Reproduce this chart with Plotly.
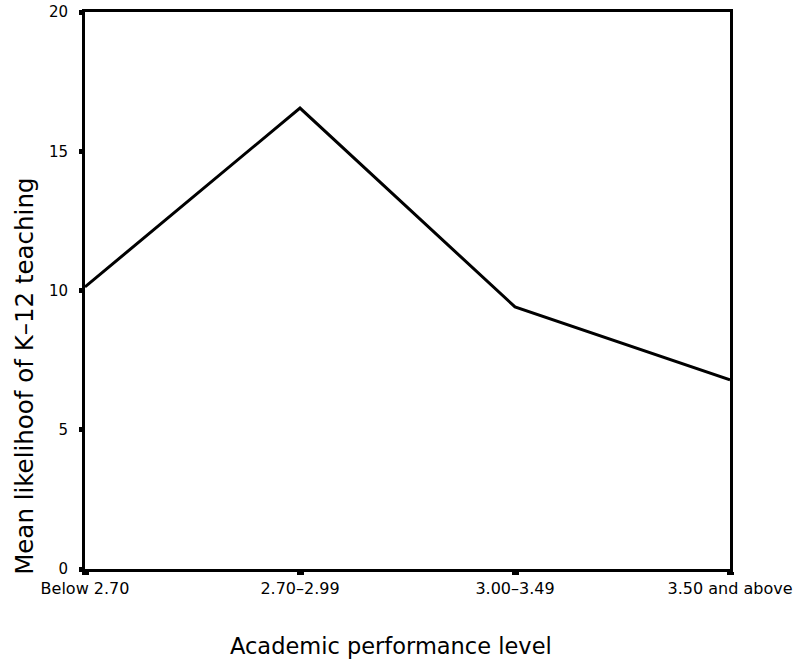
import plotly.graph_objects as go

categories = ["Below 2.70", "2.70–2.99", "3.00–3.49", "3.50 and above"]
mean_likelihood = [10.13, 16.55, 9.41, 6.79]
y_ticks = [0, 5, 10, 15, 20]
x_title = "Academic performance level"
y_title = "Mean likelihoof of K–12 teaching"

x_pos = list(range(len(categories)))

fig = go.Figure()
fig.add_trace(go.Scatter(
    x=x_pos, y=mean_likelihood, mode="lines",
    line=dict(color="black", width=3), showlegend=False, cliponaxis=False,
))

font_family = "DejaVu Sans, Verdana, sans-serif"
fig.update_layout(
    width=793, height=659,
    margin=dict(l=85, r=63, t=12, b=90, autoexpand=False),
    plot_bgcolor="white", paper_bgcolor="white",
    font=dict(family=font_family, color="black"),
)
fig.update_xaxes(
    range=[0, 3], tickvals=x_pos, ticktext=categories,
    showgrid=False, zeroline=False, automargin=False,
    ticklabeloverflow="allow",
    showline=True, linecolor="black", linewidth=3, mirror=True,
    ticks="outside", ticklen=3, tickwidth=7, tickcolor="black",
    tickfont=dict(size=16),
)
fig.update_yaxes(
    range=[0, 20], tickvals=y_ticks,
    showgrid=False, zeroline=False, automargin=False,
    ticklabeloverflow="allow",
    showline=True, linecolor="black", linewidth=3, mirror=True,
    ticks="outside", ticklen=3, tickwidth=5, tickcolor="black",
    ticklabelstandoff=8,
    tickfont=dict(size=15),
)
fig.add_annotation(
    text=x_title, xref="paper", yref="paper", x=0.475, y=-0.138,
    xanchor="center", yanchor="middle", showarrow=False,
    font=dict(size=22.5),
)
fig.add_annotation(
    text=y_title, xref="paper", yref="paper", x=-0.093, y=0.345,
    xanchor="center", yanchor="middle", textangle=-90, showarrow=False,
    font=dict(size=24.5),
)
fig.write_html("out.html", config={"displayModeBar": False},
               post_script="document.body.style.margin='0';")
